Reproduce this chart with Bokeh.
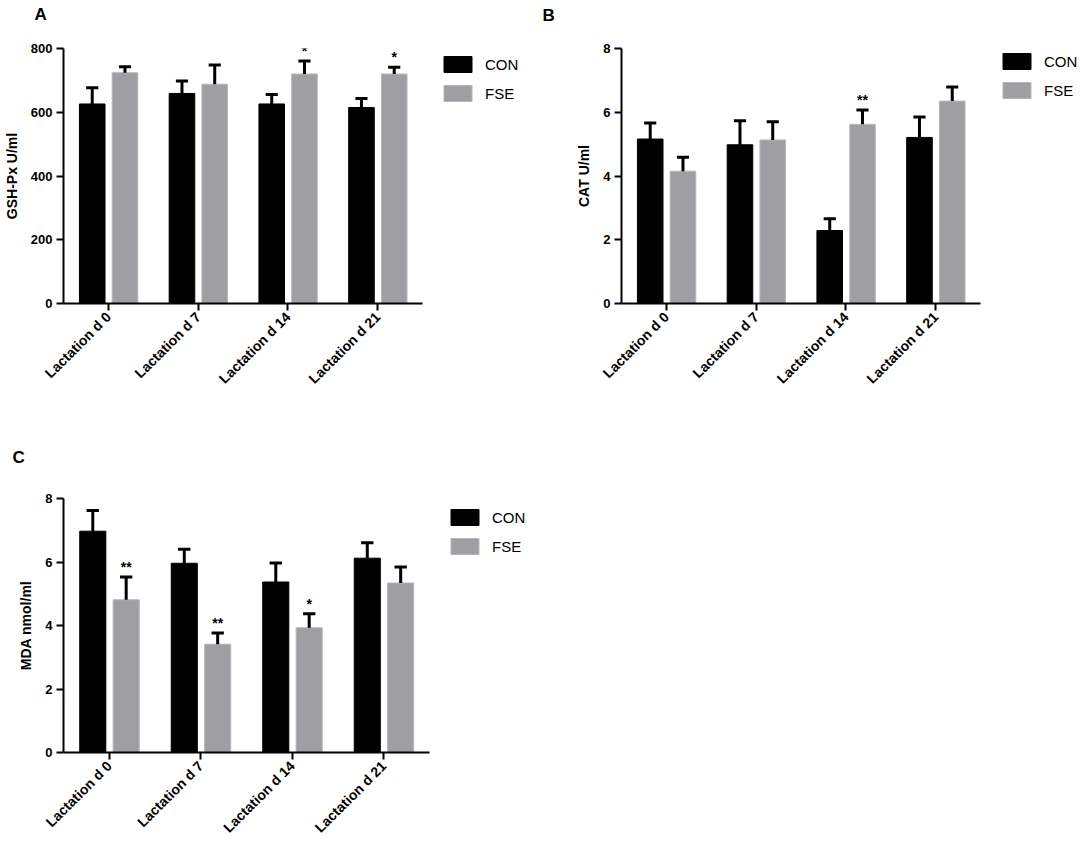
import math
from bokeh.plotting import figure
from bokeh.models import (Range1d, FixedTicker, Legend, LegendItem, Label,
                          ColumnDataSource)
from bokeh.transform import dodge
from bokeh.layouts import row, column
from bokeh.embed import file_html
from bokeh.resources import INLINE
from bokeh.core.properties import value

# ---------------- data ----------------
categories = ["Lactation d 0", "Lactation d 7", "Lactation d 14", "Lactation d 21"]

gsh_con = [626, 659, 626, 615]
gsh_con_sem = [51, 39, 30, 28]
gsh_fse = [724, 688, 720, 720]
gsh_fse_sem = [19, 60, 41, 21]
gsh_sig = ["", "", "*", "*"]
gsh_ticks = [0, 200, 400, 600, 800]

cat_con = [5.16, 4.98, 2.29, 5.21]
cat_con_sem = [0.50, 0.75, 0.37, 0.64]
cat_fse = [4.15, 5.13, 5.62, 6.35]
cat_fse_sem = [0.44, 0.57, 0.45, 0.44]
cat_sig = ["", "", "**", ""]
cat_ticks = [0, 2, 4, 6, 8]

mda_con = [6.97, 5.96, 5.37, 6.12]
mda_con_sem = [0.65, 0.44, 0.60, 0.49]
mda_fse = [4.81, 3.41, 3.93, 5.34]
mda_fse_sem = [0.72, 0.35, 0.44, 0.50]
mda_sig = ["**", "**", "*", ""]
mda_ticks = [0, 2, 4, 6, 8]

series_labels = ["CON", "FSE"]

# ---------------- style ----------------
FONT = "Liberation Sans"
CON_COLOR = "#000000"
FSE_COLOR = "#9e9ea3"
FSE_LINE = "#b6b6ba"
OFF_CON = -0.18
OFF_FSE = 0.185
BAR_W = 0.285
CAP = 0.135


def make_panel(letter, ylabel, ymax, yticks, con, con_sem, fse, fse_sem, sig,
               width, height, left, top, frame_h, axis_w, legend_loc, letter_xy):
    n = len(categories)
    frame_w = width - left
    p = figure(width=width, height=height,
               x_range=Range1d(0, n * frame_w / axis_w),
               y_range=Range1d(0, ymax),
               output_backend="svg", toolbar_location=None,
               min_border_left=left, min_border_right=0,
               min_border_top=top, min_border_bottom=height - top - frame_h)
    p.outline_line_color = None
    p.xgrid.visible = False
    p.ygrid.visible = False

    xc = [i + 0.5 for i in range(n)]
    src = ColumnDataSource(dict(
        xc=xc,
        con=con, con_top=[v + s for v, s in zip(con, con_sem)],
        fse=fse, fse_top=[v + s for v, s in zip(fse, fse_sem)],
        sig=sig))

    r_con = p.vbar(x=dodge("xc", OFF_CON), top="con", width=BAR_W,
                   source=src, fill_color=CON_COLOR, line_color=CON_COLOR)
    r_fse = p.vbar(x=dodge("xc", OFF_FSE), top="fse", width=BAR_W,
                   source=src, fill_color=FSE_COLOR, line_color=FSE_LINE)

    for off, base, top_col in ((OFF_CON, "con", "con_top"), (OFF_FSE, "fse", "fse_top")):
        p.segment(x0=dodge("xc", off), y0=base, x1=dodge("xc", off), y1=top_col,
                  source=src, line_color="black", line_width=3)
        p.segment(x0=dodge("xc", off - CAP / 2), y0=top_col,
                  x1=dodge("xc", off + CAP / 2), y1=top_col,
                  source=src, line_color="black", line_width=3)

    p.text(x=dodge("xc", OFF_FSE), y="fse_top", text="sig",
           source=src, text_align="center", text_baseline="bottom",
           y_offset=-2, text_font=value(FONT), text_font_size="14px",
           text_font_style="bold", text_color="black")

    for ax in (p.xaxis[0], p.yaxis[0]):
        ax.axis_line_width = 2
        ax.axis_line_color = "black"
        ax.major_tick_line_width = 2
        ax.major_tick_line_color = "black"
        ax.major_tick_out = 7
        ax.major_tick_in = 0
        ax.minor_tick_line_color = None
        ax.major_label_text_font = FONT
        ax.major_label_text_font_style = "bold"
        ax.major_label_text_color = "black"
        ax.major_label_standoff = 4

    p.xaxis.bounds = (0, n)
    p.xaxis.ticker = FixedTicker(ticks=xc)
    p.xaxis.major_label_overrides = {x: c for x, c in zip(xc, categories)}
    p.xaxis.major_label_orientation = math.pi / 4
    p.xaxis.major_label_text_font_size = "14px"
    p.yaxis.ticker = FixedTicker(ticks=yticks)
    p.yaxis.major_label_text_font_size = "13px"
    p.yaxis.axis_label = ylabel
    p.yaxis.axis_label_text_font = FONT
    p.yaxis.axis_label_text_font_style = "bold"
    p.yaxis.axis_label_text_font_size = "14px"
    p.yaxis.axis_label_text_color = "black"
    p.yaxis.axis_label_standoff = 8

    legend = Legend(items=[LegendItem(label=series_labels[0], renderers=[r_con]),
                           LegendItem(label=series_labels[1], renderers=[r_fse])],
                    location=legend_loc, glyph_width=35, glyph_height=20,
                    spacing=9, padding=0, margin=0, border_line_color=None,
                    background_fill_alpha=0, label_text_font=FONT,
                    label_text_font_size="15px", label_standoff=10,
                    label_height=20, label_text_color="black")
    p.add_layout(legend)

    p.add_layout(Label(x=letter_xy[0], y=letter_xy[1], x_units="screen", y_units="screen",
                       text=letter, text_font=FONT, text_font_size="17px",
                       text_font_style="bold", text_baseline="top", text_color="black"),
                 "above")
    return p


pA = make_panel("A", "GSH-Px U/ml", 800, gsh_ticks, gsh_con, gsh_con_sem, gsh_fse,
                gsh_fse_sem, gsh_sig, 541, 440, 63, 48, 255, 359, (377, 200), (-29, 44))
pB = make_panel("B", "CAT U/ml", 8, cat_ticks, cat_con, cat_con_sem, cat_fse,
                cat_fse_sem, cat_sig, 543, 440, 80, 44, 259, 359, (378, 203), (-79, 43))
pC = make_panel("C", "MDA nmol/ml", 8, mda_ticks, mda_con, mda_con_sem, mda_fse,
                mda_fse_sem, mda_sig, 541, 424, 63, 58, 254, 366, (384, 196), (-51, 51))

layout = column(row(pA, pB), pC)

with open("out.html", "w") as f:
    f.write(file_html(layout, INLINE))
